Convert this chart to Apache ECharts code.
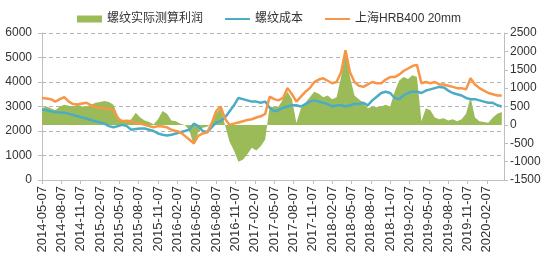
<!DOCTYPE html>
<html>
<head>
<meta charset="utf-8">
<script src="https://cdn.jsdelivr.net/npm/echarts@6/dist/echarts.min.js"></script>
<style>html,body{margin:0;padding:0;background:#fff}#c{width:550px;height:256px}</style>
</head>
<body>
<div id="c"></div>
<script>
// x tick labels (every 13 weeks from 2014-05-07)
const tickLabels = ['2014-05-07','2014-08-07','2014-11-07','2015-02-07','2015-05-07','2015-08-07','2015-11-07','2016-02-07','2016-05-07','2016-08-07','2016-11-07','2017-02-07','2017-05-07','2017-08-07','2017-11-07','2018-02-07','2018-05-07','2018-08-07','2018-11-07','2019-02-07','2019-05-07','2019-08-07','2019-11-07','2020-02-07'];
// sample positions, in weeks since 2014-05-07
const weeks = [0,3,6,9,12,15,18,21,24,27,30,33,36,39,42,45,48,51,54,57,60,63,66,69,72,75,78,81,84,87,90,93,96,99,102,105,108,111,114,117,120,123,126,129,132,135,138,141,144,147,150,153,156,159,162,165,168,171,174,177,180,183,186,189,192,195,198,201,204,207,210,213,216,219,222,225,228,231,234,237,240,243,246,249,252,255,258,261,264,267,270,273,276,279,282,285,288,291,294,297,300,303,306,309];
// 上海HRB400 20mm (left axis)
const price = [3350,3330,3300,3200,3300,3380,3200,3100,3080,3120,
3150,3050,2980,2950,2920,2900,2850,2500,2400,2420,
2400,2330,2300,2250,2200,2150,2200,2180,2150,2050,
2000,1950,1800,1650,1500,1800,1900,1950,2300,2800,
3000,2500,2250,2300,2350,2400,2450,2480,2550,2600,
2700,3400,3300,3250,3350,3750,3500,3200,3400,3600,
3750,4000,4100,4150,4050,3950,4000,4400,5300,4400,
4000,3850,3800,3900,4000,3950,3950,4100,4200,4200,
4300,4450,4550,4650,4700,3950,4000,3950,4000,3900,
3900,3850,3800,3750,3750,3700,4150,3900,3750,3650,
3550,3500,3450,3450];
// 螺纹成本 (left axis)
const cost = [2880,2850,2800,2780,2750,2750,2700,2650,2600,2550,
2500,2450,2400,2350,2300,2200,2150,2200,2250,2200,
2050,2080,2100,2100,2050,2000,1900,1850,1820,1850,
1900,1950,2000,2050,2300,2200,2000,1950,2150,2350,
2400,2550,2800,3050,3350,3300,3250,3200,3200,3150,
3200,2950,2800,2850,2950,3000,3050,3050,3000,3100,
3200,3250,3200,3150,3100,3000,3050,3050,3000,3050,
3100,3100,3150,3050,3250,3400,3550,3600,3550,3350,
3300,3450,3550,3600,3600,3550,3650,3700,3750,3800,
3780,3650,3550,3500,3450,3350,3300,3300,3250,3200,
3150,3150,3050,3000];
// 螺纹实际测算利润 (right axis)
const profit = [450,500,450,400,500,550,520,500,550,500,
500,550,600,620,650,620,550,250,100,100,
150,330,200,120,80,20,150,380,300,120,
100,30,0,-150,-550,-200,-80,-50,50,300,
450,0,-450,-700,-1000,-950,-800,-620,-700,-580,
-400,500,480,500,700,900,700,50,450,600,
750,900,850,750,800,700,750,1300,2000,1300,
800,700,600,450,500,480,500,550,500,900,
1200,1300,1250,1350,1300,100,450,400,200,150,
180,120,150,100,150,300,750,200,100,80,
60,200,300,350];

const pair = arr => weeks.map((w, i) => [w, arr[i]]);
const FONT = "'Liberation Sans', 'Noto Sans CJK SC', sans-serif";
// thin line icon, padded to the same box as the rect icon
const LINE_ICON = 'path://M0,0h0.01v0.01h-0.01z M0,2.6H25V4.4H0Z M24.99,6.99h0.01v0.01h-0.01z';
const chart = echarts.init(document.getElementById('c'), null, {renderer: 'canvas'});
chart.setOption({
  animation: false,
  backgroundColor: '#fff',
  textStyle: {fontFamily: FONT},
  legend: {
    left: 72, top: 8, itemWidth: 25, itemHeight: 7, itemGap: 22,
    textStyle: {fontSize: 12, color: '#333', fontFamily: FONT},
    data: [
      {name: '螺纹实际测算利润', icon: 'rect'},
      {name: '螺纹成本', icon: LINE_ICON},
      {name: '上海HRB400 20mm', icon: LINE_ICON}
    ]
  },
  grid: {left: 42, right: 46, top: 33, bottom: 76, containLabel: false},
  xAxis: {
    type: 'value', min: 0, max: 310.5, interval: 13,
    axisLine: {onZero: false, lineStyle: {color: '#BFBFBF'}},
    axisTick: {show: true, length: 4, lineStyle: {color: '#BFBFBF'}},
    splitLine: {show: false},
    axisLabel: {
      rotate: 90, fontSize: 13, color: '#333', fontFamily: FONT, margin: 6,
      showMaxLabel: false,
      formatter: v => { const i = v / 13; return (Number.isInteger(i) && i < tickLabels.length) ? tickLabels[i] : ''; }
    }
  },
  yAxis: [
    {
      type: 'value', min: 0, max: 6000, interval: 1000, position: 'left',
      axisLine: {show: true, lineStyle: {color: '#BFBFBF'}},
      axisTick: {show: true, length: 4, lineStyle: {color: '#BFBFBF'}},
      axisLabel: {fontSize: 12, color: '#333', fontFamily: FONT, margin: 10, formatter: v => String(v)},
      splitLine: {show: true, lineStyle: {color: '#B4B4B4', type: [4, 3], width: 1}}
    },
    {
      type: 'value', min: -1500, max: 2500, interval: 500, position: 'right',
      axisLine: {show: true, lineStyle: {color: '#BFBFBF'}},
      axisTick: {show: true, length: 4, lineStyle: {color: '#BFBFBF'}},
      axisLabel: {fontSize: 12, color: '#333', fontFamily: FONT, margin: 6, formatter: v => String(v)},
      splitLine: {show: false}
    }
  ],
  series: [
    {
      name: '螺纹实际测算利润', type: 'line', yAxisIndex: 1, data: pair(profit),
      symbol: 'none', lineStyle: {width: 0, opacity: 0}, itemStyle: {color: '#9BBB59'},
      areaStyle: {color: '#9BBB59', opacity: 1, origin: 0}, z: 1
    },
    {
      name: '螺纹成本', type: 'line', yAxisIndex: 0, data: pair(cost),
      symbol: 'none', itemStyle: {color: '#4BACC6'}, lineStyle: {color: '#4BACC6', width: 2.5}, z: 2
    },
    {
      name: '上海HRB400 20mm', type: 'line', yAxisIndex: 0, data: pair(price),
      symbol: 'none', itemStyle: {color: '#F79646'}, lineStyle: {color: '#F79646', width: 2.5}, z: 3
    }
  ]
});
</script>
</body>
</html>
